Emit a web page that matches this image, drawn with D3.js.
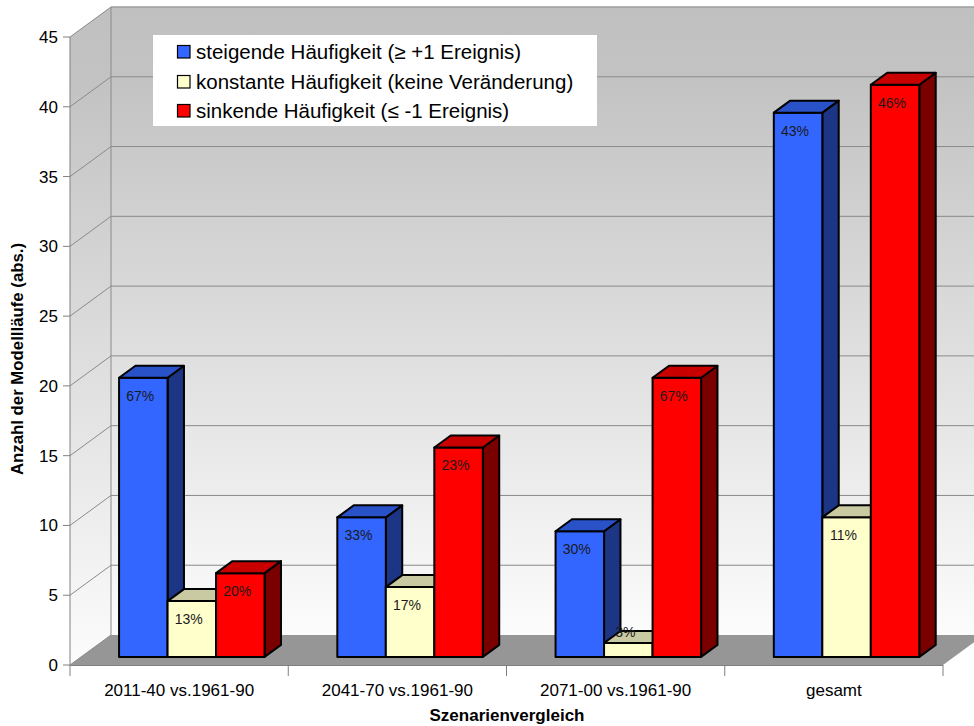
<!DOCTYPE html>
<html>
<head>
<meta charset="utf-8">
<script src="https://cdn.jsdelivr.net/npm/d3@7"></script>
<style>
  html, body { margin: 0; padding: 0; background: #ffffff; }
  svg { display: block; font-family: "Liberation Sans", Arial, Helvetica, sans-serif; }
</style>
</head>
<body>
<svg id="chart" width="974" height="726"></svg>
<script>
// Scenario comparisons on the category axis
const categories = ["2011-40 vs.1961-90", "2041-70 vs.1961-90", "2071-00 vs.1961-90", "gesamt"];

// Series names (legend entries)
const seriesNames = [
  "steigende Häufigkeit (≥ +1 Ereignis)",
  "konstante Häufigkeit (keine Veränderung)",
  "sinkende Häufigkeit (≤ -1 Ereignis)"
];

// Number of model runs per scenario comparison
const steigend  = [20, 10, 9, 39];
const konstant  = [4, 5, 1, 10];
const sinkend   = [6, 15, 20, 41];

// Percentage labels printed on the bars
const labelsSteigend = ["67%", "33%", "30%", "43%"];
const labelsKonstant = ["13%", "17%", "3%", "11%"];
const labelsSinkend  = ["20%", "23%", "67%", "46%"];

// Value axis ticks
const yTicks = [0, 5, 10, 15, 20, 25, 30, 35, 40, 45];

const seriesValues = [steigend, konstant, sinkend];
const seriesLabels = [labelsSteigend, labelsKonstant, labelsSinkend];

// Face colours: front, top, side
const palette = [
  { front: "#3366ff", top: "#2a52c8", side: "#1c3584" },
  { front: "#ffffcc", top: "#c9c9a2", side: "#80806a" },
  { front: "#ff0000", top: "#c80000", side: "#7a0000" }
];

const svg = d3.select("#chart");

// Front-plane scales
const y = d3.scaleLinear().domain([0, 45]).range([665, 37]);
const x0 = d3.scaleBand().domain(categories).range([70, 943]).padding(0);
const x1 = d3.scaleBand().domain(d3.range(seriesNames.length)).range([38, 183.5]).padding(0);

// Oblique depth projection
const DX = 41, DY = -30;
const zFront = 0.27, zBack = 0.67;
const proj = (x, v, z) => [x + z * DX, y(v) + z * DY];
const poly = pts => pts.map(p => p.join(",")).join(" ");

const xLeft = 70, xRight = 943, W = 974;

// Wall gradient
const defs = svg.append("defs");
const grad = defs.append("linearGradient")
  .attr("id", "wallGrad").attr("x1", 0).attr("y1", 0).attr("x2", 0).attr("y2", 1);
grad.append("stop").attr("offset", "0%").attr("stop-color", "#c0c0c0");
grad.append("stop").attr("offset", "12%").attr("stop-color", "#c3c3c3");
grad.append("stop").attr("offset", "100%").attr("stop-color", "#fcfcfc");

const walls = svg.append("g");

// Back wall
const bwTop = proj(xLeft, 45, 1), bwBottom = proj(xLeft, 0, 1);
walls.append("rect")
  .attr("x", bwTop[0]).attr("y", bwTop[1])
  .attr("width", W - bwTop[0] + 5).attr("height", bwBottom[1] - bwTop[1])
  .attr("fill", "url(#wallGrad)");

// Side wall
walls.append("polygon")
  .attr("points", poly([proj(xLeft, 45, 0), proj(xLeft, 45, 1), proj(xLeft, 0, 1), proj(xLeft, 0, 0)]))
  .attr("fill", "url(#wallGrad)");

// Floor
walls.append("polygon")
  .attr("points", poly([proj(xLeft, 0, 0), proj(xRight, 0, 0), proj(xRight, 0, 1), proj(xLeft, 0, 1)]))
  .attr("fill", "#969696");

// Gridlines on side and back walls
const grid = svg.append("g").attr("stroke", "#8a8a8a").attr("stroke-width", 1).attr("fill", "none");
yTicks.filter(v => v > 0).forEach(v => {
  const a = proj(xLeft, v, 0), b = proj(xLeft, v, 1);
  grid.append("line").attr("x1", a[0]).attr("y1", a[1]).attr("x2", b[0]).attr("y2", b[1]);
  grid.append("line").attr("x1", b[0]).attr("y1", b[1]).attr("x2", W + 5).attr("y2", b[1]);
});
// Wall edges
grid.append("line")
  .attr("x1", bwTop[0]).attr("y1", bwTop[1]).attr("x2", bwBottom[0]).attr("y2", bwBottom[1]);
grid.append("line")
  .attr("x1", bwTop[0]).attr("y1", bwTop[1]).attr("x2", W + 5).attr("y2", bwTop[1])
  .attr("stroke", "#a8a8a8");
grid.append("line")
  .attr("x1", proj(xLeft, 0, 0)[0]).attr("y1", proj(xLeft, 0, 0)[1])
  .attr("x2", bwBottom[0]).attr("y2", bwBottom[1]);

// Value axis
const yAxis = svg.append("g");
yAxis.append("line")
  .attr("x1", xLeft).attr("x2", xLeft).attr("y1", y(45)).attr("y2", y(0))
  .attr("stroke", "#808080").attr("stroke-width", 1);
yAxis.selectAll("line.tick").data(yTicks).join("line")
  .attr("class", "tick")
  .attr("x1", xLeft - 7).attr("x2", xLeft).attr("y1", d => y(d)).attr("y2", d => y(d))
  .attr("stroke", "#808080");
yAxis.selectAll("text").data(yTicks).join("text")
  .attr("x", 58).attr("y", d => y(d)).attr("dy", "0.35em")
  .attr("text-anchor", "end").attr("font-size", 17).attr("fill", "#000")
  .text(d => d);

// Category axis
const xAxis = svg.append("g");
xAxis.append("line")
  .attr("x1", xLeft).attr("x2", xRight).attr("y1", y(0) + 0.5).attr("y2", y(0) + 0.5)
  .attr("stroke", "#808080");
const bounds = categories.map(c => x0(c)).concat([xRight]);
xAxis.selectAll("line.tick").data(bounds).join("line")
  .attr("class", "tick")
  .attr("x1", d => d).attr("x2", d => d).attr("y1", y(0)).attr("y2", y(0) + 11)
  .attr("stroke", "#808080");
xAxis.selectAll("text").data(categories).join("text")
  .attr("x", d => x0(d) + x0.bandwidth() / 2).attr("y", 696)
  .attr("text-anchor", "middle").attr("font-size", 17).attr("fill", "#000")
  .text(d => d);

// Axis titles
svg.append("text")
  .attr("x", 507).attr("y", 721).attr("text-anchor", "middle")
  .attr("font-size", 17).attr("font-weight", "bold").text("Szenarienvergleich");
svg.append("text")
  .attr("transform", "translate(23,359) rotate(-90)")
  .attr("text-anchor", "middle").attr("font-size", 16.8).attr("font-weight", "bold")
  .text("Anzahl der Modellläufe (abs.)");

// 3D bars, drawn left to right so nearer faces overlap correctly
const bars = svg.append("g")
  .attr("stroke", "#000").attr("stroke-width", 2).attr("stroke-linejoin", "round");
const labelData = [];
categories.forEach((cat, ci) => {
  seriesValues.forEach((vals, si) => {
    const v = vals[ci];
    const xl = x0(cat) + x1(si), xr = xl + x1.bandwidth();
    const g = bars.append("g");
    g.append("polygon")
      .attr("points", poly([proj(xr, v, zFront), proj(xr, v, zBack), proj(xr, 0, zBack), proj(xr, 0, zFront)]))
      .attr("fill", palette[si].side);
    g.append("polygon")
      .attr("points", poly([proj(xl, v, zFront), proj(xr, v, zFront), proj(xr, 0, zFront), proj(xl, 0, zFront)]))
      .attr("fill", palette[si].front);
    g.append("polygon")
      .attr("points", poly([proj(xl, v, zFront), proj(xr, v, zFront), proj(xr, v, zBack), proj(xl, v, zBack)]))
      .attr("fill", palette[si].top);
    const top = proj(xl, v, zFront)[1], bottom = proj(xl, 0, zFront)[1];
    const cx = proj((xl + xr) / 2, v, zFront)[0] - 3;
    labelData.push({ x: cx, y: Math.min(top + 18, bottom - 25), text: seriesLabels[si][ci] });
  });
});

// Percentage labels
svg.append("g").selectAll("text").data(labelData).join("text")
  .attr("x", d => d.x).attr("y", d => d.y).attr("dy", "0.35em")
  .attr("text-anchor", "middle").attr("font-size", 14).attr("fill", "#1a1a1a")
  .text(d => d.text);

// Legend
const legend = svg.append("g");
legend.append("rect")
  .attr("x", 153).attr("y", 35).attr("width", 444).attr("height", 91)
  .attr("fill", "#ffffff");
const rowY = [52, 82, 111];
seriesNames.forEach((name, i) => {
  legend.append("rect")
    .attr("x", 177.5).attr("y", rowY[i] - 6.5).attr("width", 12.5).attr("height", 12.5)
    .attr("fill", palette[i].front).attr("stroke", "#000").attr("stroke-width", 1.2);
  legend.append("text")
    .attr("x", 196).attr("y", rowY[i]).attr("dy", "0.35em")
    .attr("font-size", 20.5).attr("fill", "#000").text(name);
});
</script>
</body>
</html>
